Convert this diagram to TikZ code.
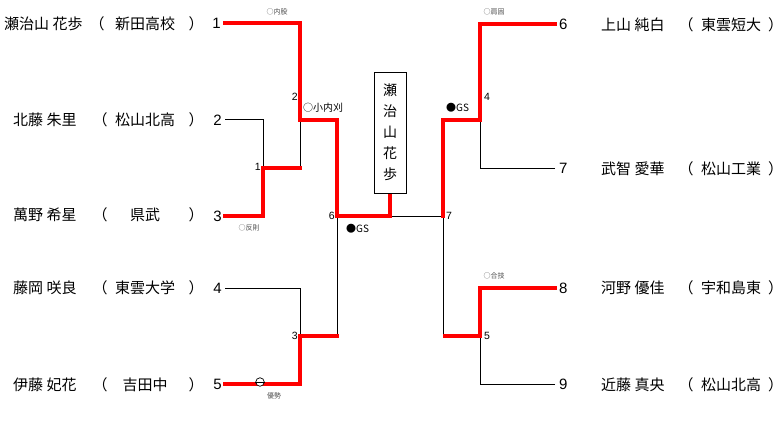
\documentclass[tikz,border=0pt]{standalone}
\usepackage{fontspec}
\setmainfont{Noto Sans CJK JP}
\newfontfamily\numfont{Liberation Sans}
\usetikzlibrary{positioning}
\definecolor{ink}{RGB}{0,0,0}
\definecolor{win}{RGB}{255,0,0}
\definecolor{faint}{RGB}{80,80,80}
\tikzset{
  every picture/.style={x=1pt, y=-1pt, color=ink},
  player/.style={font=\fontsize{15}{17}\selectfont, inner sep=0pt},
  seed/.style={font=\numfont\fontsize{15}{17}\selectfont, inner sep=0pt},
  bout/.style={font=\numfont\fontsize{10.5}{12}\selectfont, inner sep=0pt},
  tech/.style={font=\fontsize{10}{12}\selectfont, inner sep=0pt},
  waza/.style={font=\fontsize{7}{8}\selectfont, inner sep=0pt, text=faint},
  lose/.style={draw=ink, line width=1pt},
  wonby/.style={draw=win, line width=3.2pt, line cap=rect},
  champ/.style={draw=ink, line width=0.8pt, fill=white, minimum width=32pt, minimum height=121pt,
    align=center, font=\fontsize{14}{21}\selectfont},
}
\begin{document}
\begin{tikzpicture}
  \useasboundingbox (0,0) rectangle (784,433);
  % left side of the draw
  \node[player, anchor=west] (n1) at (4,24) {瀬治山 花歩};
  \node[player] (o1) at (97,24) {（};
  \node[player] (c1) at (145,24) {新田高校};
  \node[player] (e1) at (196,24) {）};
  \node[player, anchor=west] (n2) at (13,120) {北藤 朱里};
  \node[player] (o2) at (100,120) {（};
  \node[player] (c2) at (145,120) {松山北高};
  \node[player] (e2) at (196,120) {）};
  \node[player, anchor=west] (n3) at (13,215) {萬野 希星};
  \node[player] (o3) at (100,215) {（};
  \node[player] (c3) at (145,215) {県武};
  \node[player] (e3) at (196,215) {）};
  \node[player, anchor=west] (n4) at (13,288) {藤岡 咲良};
  \node[player] (o4) at (100,288) {（};
  \node[player] (c4) at (145,288) {東雲大学};
  \node[player] (e4) at (196,288) {）};
  \node[player, anchor=west] (n5) at (13,385) {伊藤 妃花};
  \node[player] (o5) at (100,385) {（};
  \node[player] (c5) at (145,385) {吉田中};
  \node[player] (e5) at (196,385) {）};
  \node[seed, anchor=east] (s1) at (221,23) {1};
  \node[seed, anchor=east] (s2) at (222,120) {2};
  \node[seed, anchor=east] (s3) at (222,216) {3};
  \node[seed, anchor=east] (s4) at (222,288) {4};
  \node[seed, anchor=east] (s5) at (222,384) {5};
  % right side of the draw
  \node[seed, anchor=west] (s6) at (559,24) {6};
  \node[seed, anchor=west] (s7) at (559,168) {7};
  \node[seed, anchor=west] (s8) at (559,288) {8};
  \node[seed, anchor=west] (s9) at (559,384) {9};
  \node[player, anchor=west] (n6) at (601,25) {上山 純白};
  \node[player] (o6) at (686,25) {（};
  \node[player] (c6) at (731,25) {東雲短大};
  \node[player, anchor=west] (e6) at (768,25) {）};
  \node[player, anchor=west] (n7) at (601,169) {武智 愛華};
  \node[player] (o7) at (686,169) {（};
  \node[player] (c7) at (731,169) {松山工業};
  \node[player, anchor=west] (e7) at (768,169) {）};
  \node[player, anchor=west] (n8) at (601,288) {河野 優佳};
  \node[player] (o8) at (686,288) {（};
  \node[player] (c8) at (731,288) {宇和島東};
  \node[player, anchor=west] (e8) at (768,288) {）};
  \node[player, anchor=west] (n9) at (601,385) {近藤 真央};
  \node[player] (o9) at (686,385) {（};
  \node[player] (c9) at (731,385) {松山北高};
  \node[player, anchor=west] (e9) at (768,385) {）};
  % bout junctions
  \coordinate (m1) at (263,168);
  \coordinate (m2) at (300,120);
  \coordinate (m3) at (300,336);
  \coordinate (m6) at (337,216);
  \coordinate (m7) at (443,216);
  \coordinate (m4) at (480,120);
  \coordinate (m5) at (480,336);
  \node[champ] (fin) at (390,132.5) {};
  % losers first, winners on top
  \draw[lose] ([xshift=3pt]s2.east) -| (m1);
  \draw[lose] (m1 -| m2) -- (m2);
  \draw[lose] ([xshift=3pt]s4.east) -| (m3);
  \draw[lose] (m3 -| m6) -- (m6);
  \draw[lose] (m6 -| fin) -- (m7);
  \draw[lose] ([xshift=-4pt]s7.west) -| (m4);
  \draw[lose] (m7) -- (m7 |- m5);
  \draw[lose] ([xshift=-4pt]s9.west) -| (m5);
  \draw[wonby] ([xshift=4pt]s1.east) -| (m2);
  \draw[wonby] ([xshift=3pt]s3.east) -| (m1) -- (m1 -| m2);
  \draw[wonby] (m2) -| (m6) -- (m6 -| fin) -- (fin.south);
  \draw[wonby] ([xshift=3pt]s5.east) -| (m3) -- (m3 -| m6);
  \draw[wonby] ([xshift=-4pt]s6.west) -| (m4) -| (m7);
  \draw[wonby] ([xshift=-4pt]s8.west) -| (m5) -- ([xshift=1.6pt]m7 |- m5);
  \node[champ] (name) at (fin) {瀬\\治\\山\\花\\歩};
  % bout numbers and results
  \node[bout, anchor=east] (b1) at (261,167) {1};
  \node[bout, anchor=east] (b2) at (298,97) {2};
  \node[bout, anchor=east] (b3) at (298,336) {3};
  \node[bout, anchor=east] (b6) at (335,216) {6};
  \node[bout, anchor=west] (b4) at (484,97) {4};
  \node[bout, anchor=west] (b5) at (484,336) {5};
  \node[bout, anchor=west] (b7) at (446,216) {7};
  \node[waza] (w1) at (277,12) {○内股};
  \node[waza] (w3) at (249,228) {○反則};
  \node[waza] (w5) at (274,396) {優勢};
  \node[waza] (w6) at (494,12) {○肩固};
  \node[waza] (w8) at (494,276) {○合技};
  \node[tech, anchor=west] (t2) at (303,108) {○小内刈};
  \node[tech, anchor=west] (t6) at (346,229) {●GS};
  \node[tech, anchor=west] (t4) at (446,108) {●GS};
  \node[circle, draw, fill=white, inner sep=0pt, minimum size=8.5pt, line width=0.7pt] (hit) at (260,382) {};
  \draw[line width=0.7pt] (hit.west) -- (hit.east);
\end{tikzpicture}
\end{document}
